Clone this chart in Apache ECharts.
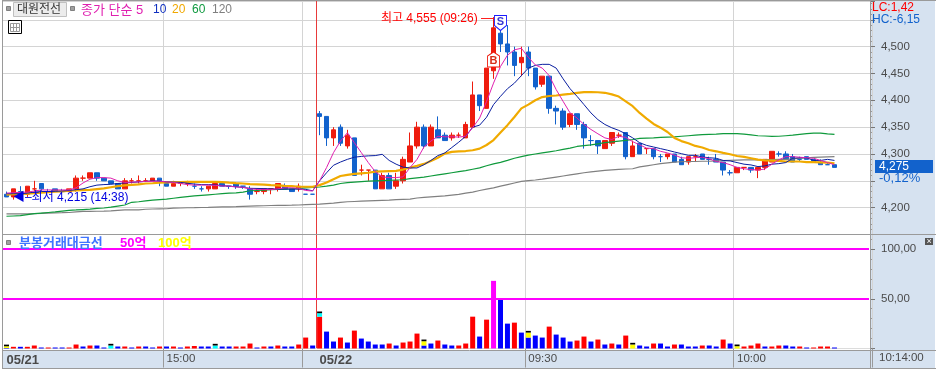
<!DOCTYPE html>
<html>
<head>
<meta charset="utf-8">
<style>html,body{margin:0;padding:0;background:#fff}#chart{width:936px;height:370px}</style>
<script src="https://cdn.jsdelivr.net/npm/echarts@6/dist/echarts.min.js"></script>
</head>
<body>
<div id="chart"></div>
<script>
// 분봉 시간
const times = [
  '14:37','14:38','14:39','14:40','14:41','14:42','14:43','14:44','14:45','14:46',
  '14:47','14:48','14:49','14:50','14:51','14:52','14:53','14:54','14:55','14:56',
  '14:57','14:58','14:59','15:00','15:01','15:02','15:03','15:04','15:05','15:06',
  '15:07','15:08','15:09','15:10','15:11','15:12','15:13','15:14','15:15','15:16',
  '15:17','15:18','15:19','15:20','15:21',
  '09:00','09:01','09:02','09:03','09:04','09:05','09:06','09:07','09:08','09:09',
  '09:10','09:11','09:12','09:13','09:14','09:15','09:16','09:17','09:18','09:19',
  '09:20','09:21','09:22','09:23','09:24','09:25','09:26','09:27','09:28','09:29',
  '09:30','09:31','09:32','09:33','09:34','09:35','09:36','09:37','09:38','09:39',
  '09:40','09:41','09:42','09:43','09:44','09:45','09:46','09:47','09:48','09:49',
  '09:50','09:51','09:52','09:53','09:54','09:55','09:56','09:57','09:58','09:59',
  '10:00','10:01','10:02','10:03','10:04','10:05','10:06','10:07','10:08','10:09',
  '10:10','10:11','10:12','10:13','10:14'
]
// 오른쪽 여백 칸
const blankSlots = ['', '', '', '', '']

const opens = [
  4225,4220,4230,4225,4235,4245,4230,4235,4230,4230,
  4235,4255,4255,4265,4255,4250,4245,4235,4250,4250,
  4250,4250,4255,4245,4240,4245,4245,4240,4235,4235,
  4235,4245,4240,4245,4240,4235,4230,4230,4235,4235,
  4240,4235,4235,4225,4225,4375,4370,4330,4350,4315,
  4330,4270,4270,4270,4235,4260,4240,4250,4285,4315,
  4350,4315,4345,4335,4330,4335,4330,4350,4410,4385,
  4455,4525,4505,4490,4470,4490,4460,4430,4445,4385,
  4380,4355,4375,4355,4325,4325,4310,4320,4335,4340,
  4295,4320,4310,4310,4295,4295,4300,4290,4285,4295,
  4300,4290,4290,4285,4265,4265,4275,4275,4270,4275,
  4285,4300,4300,4295,4290,4295,4290,4285,4280,4280
]
const closes = [
  4220,4235,4225,4240,4235,4235,4230,4230,4230,4235,
  4255,4255,4265,4255,4250,4245,4235,4250,4250,4250,
  4250,4255,4250,4240,4245,4245,4245,4240,4235,4240,
  4245,4240,4240,4240,4240,4225,4230,4235,4235,4245,
  4235,4230,4240,4225,4225,4370,4330,4345,4320,4335,
  4260,4270,4270,4235,4260,4235,4250,4290,4315,4350,
  4315,4350,4330,4325,4335,4335,4355,4410,4390,4460,
  4535,4505,4490,4465,4480,4460,4425,4445,4385,4380,
  4350,4375,4355,4330,4325,4315,4325,4340,4335,4295,
  4315,4300,4310,4295,4295,4300,4285,4280,4295,4295,
  4290,4290,4285,4270,4265,4275,4275,4270,4275,4290,
  4305,4300,4290,4285,4290,4290,4285,4280,4280,4275
]
const highs = [
  4230,4235,4240,4240,4250,4245,4235,4235,4235,4235,
  4260,4260,4265,4265,4255,4250,4245,4255,4255,4260,
  4255,4255,4255,4245,4250,4245,4250,4245,4240,4240,
  4245,4245,4240,4245,4240,4240,4235,4235,4235,4245,
  4245,4235,4245,4225,4225,4380,4370,4350,4355,4345,
  4330,4280,4270,4270,4265,4265,4265,4295,4340,4360,
  4355,4355,4370,4340,4340,4340,4360,4435,4410,4460,
  4555,4545,4540,4500,4500,4500,4460,4445,4445,4390,
  4385,4375,4375,4360,4335,4325,4325,4340,4340,4340,
  4325,4320,4310,4310,4300,4300,4300,4295,4295,4300,
  4300,4295,4300,4285,4270,4275,4275,4275,4275,4290,
  4305,4305,4305,4300,4295,4295,4290,4290,4285,4280
]
const lows = [
  4220,4215,4225,4220,4230,4230,4230,4230,4225,4230,
  4230,4250,4255,4250,4250,4245,4235,4235,4245,4245,
  4250,4250,4240,4240,4240,4240,4240,4235,4230,4230,
  4235,4240,4235,4235,4235,4215,4225,4225,4225,4230,
  4235,4230,4230,4225,4225,4335,4315,4315,4315,4310,
  4260,4260,4250,4235,4235,4235,4235,4245,4285,4310,
  4310,4315,4330,4325,4325,4330,4330,4350,4380,4385,
  4440,4490,4465,4445,4445,4445,4420,4425,4375,4355,
  4345,4350,4345,4310,4315,4300,4310,4315,4330,4290,
  4295,4300,4300,4290,4285,4290,4285,4280,4280,4285,
  4290,4280,4285,4260,4260,4265,4270,4265,4255,4270,
  4285,4295,4290,4285,4285,4290,4285,4280,4280,4275
]
// 시가=종가인 봉 중 빨간 십자
const redDoji = [4,11,18,19,20,25,26,36,38,51,52,65,88,92,99,106]

const ma5 = [
  4227,4228,4228.5,4229,4231,4233,4233,4233,4233,4233,
  4237,4246,4253,4256,4256,4255,4250,4247,4247.5,4248,
  4249,4249,4249.5,4248,4247,4245,4243,4242,4242,4242,
  4241.5,4240.5,4240,4238.5,4238,4235,4234,4234,4233.5,4235,
  4237,4237,4236,4232,4231,4250,4274.7,4302.5,4324,4339.5,
  4321,4302.5,4284,4267,4257.4,4256,4256,4257.4,4274.7,4290,
  4313,4324,4333,4332,4332,4331.5,4333,4349,4367,4398,
  4432,4463,4484,4494,4497,4480,4466,4460,4446,4420,
  4398,4376.5,4367,4355,4345.7,4337.6,4330,4327,4333,4331,
  4323,4317,4311,4310,4305,4302,4298,4293,4292,4293,
  4294,4291,4286,4284,4280,4275,4272.5,4271,4270,4272,
  4281,4289,4295,4295,4294,4293,4292,4288,4284,4280
]
const ma10 = [
  4226,4226,4226,4227,4229,4230,4230,4230.5,4231,4232,
  4233.5,4235,4239,4242,4243,4243.5,4245,4246,4247,4248,
  4249,4250,4249.5,4248,4247.5,4247,4245.5,4244,4243,4243,
  4242.5,4241,4240,4239,4237.6,4236,4235.8,4235.5,4235,4234.6,
  4234.6,4234.6,4234.6,4234,4231.5,4250,4265,4279,4285,4290,
  4294,4295.5,4296.5,4297,4299.4,4288,4281,4275.5,4274,4274,
  4280,4288,4297,4302,4312,4322,4333,4350,4353.7,4368.5,
  4392,4407.4,4421.6,4432,4446,4460,4465,4467,4467,4460,
  4440,4421.6,4407.4,4392,4376.5,4364,4355,4348.8,4344,4337.6,
  4330,4321,4316,4313,4310,4307,4303.7,4300.6,4297.5,4297.5,
  4294.4,4293,4292,4288,4287,4284,4281,4279.6,4276.5,4277.8,
  4281,4282,4284,4292,4293,4293,4288,4288,4290,4288
]
const ma20 = [
  4224,4225,4225.5,4226,4227,4228,4229,4230,4230.5,4231.5,
  4232,4232.7,4233,4234.6,4236,4238,4240,4241.5,4242.6,4243.5,
  4245,4245.5,4246.5,4247,4247.5,4247.5,4248,4248,4248,4248,
  4248,4247.5,4246.5,4245.7,4245,4244,4243.5,4243,4242,4241.5,
  4240.5,4240,4239,4239,4239,4242,4247,4253,4259,4261,
  4263,4264,4265,4267,4267.5,4268,4268.5,4271,4274.7,4277.8,
  4281.5,4287,4293,4300.6,4304,4305,4305.5,4307,4310,4316.7,
  4326,4340,4353.7,4369,4385,4392,4400,4406,4408,4409,
  4410.5,4412,4414,4415.4,4415.5,4415,4414,4411,4407,4398,
  4389,4376.5,4366,4356,4349,4341,4330,4324,4320,4315,
  4312,4307.5,4305,4302,4299.5,4296.3,4294.5,4292,4289.5,4288,
  4287.7,4287,4286,4286,4286,4285,4285,4284.5,4284,4282.7
]
const ma60 = [
  4184,4184.5,4185,4187,4189,4190,4191,4192,4193.5,4195,
  4195.7,4196.5,4197.3,4198.5,4199.4,4201,4203,4205,4210,4211,
  4212.5,4214,4215,4216,4217.5,4219,4220.5,4222,4223,4224,
  4225,4226,4227,4227.5,4229,4231.5,4232,4232.5,4233.5,4234,
  4234.6,4235.2,4236,4236.8,4237.6,4238.5,4240,4242,4245,4246.5,
  4247.5,4248.5,4249.5,4250,4250.5,4251,4251.5,4252,4254,4255.5,
  4257,4259,4261,4263,4265,4267,4269,4271.5,4274,4278,
  4281.5,4284.5,4288,4292,4295,4298,4300,4302,4304,4306,
  4308.5,4311,4314,4315.5,4317,4319,4321,4322.5,4324,4325.5,
  4327,4329,4329.5,4330,4331,4331.5,4332,4333,4334,4335,
  4336,4336.5,4337,4338,4338,4338,4337,4335.5,4334,4333.5,
  4332.7,4333,4334,4335,4336.5,4338,4339,4339,4337.5,4336.5
]
const ma120 = [
  4188.3,4188.3,4188.3,4188.6,4189,4189.3,4190,4190.3,4190.6,4191,
  4192,4193,4193,4193.3,4193.6,4194,4195,4195.7,4195.7,4196,
  4197,4197.5,4197.8,4198,4199,4199.4,4199.8,4200,4200.3,4200.6,
  4201,4201.3,4201.6,4202,4202.5,4203,4203.3,4203.6,4204,4204.3,
  4204.3,4204.6,4205,4205.5,4206,4206.5,4207.5,4208.5,4210,4211,
  4211.5,4212,4212.5,4213,4213.5,4214,4215,4215.5,4216,4218,
  4219,4220,4221,4222,4223.5,4224.7,4227,4229,4232,4234.6,
  4237,4240,4243,4246,4249,4250.5,4251.5,4253,4255,4257,
  4259,4261,4263,4265,4266.5,4268,4269.5,4270.5,4271.5,4272,
  4272.5,4276,4278,4280,4282,4283.5,4285,4285.5,4286,4286,
  4286.5,4286.5,4287,4287.5,4288,4288.5,4289,4289,4289,4289.5,
  4289.5,4290,4290,4291,4292,4293,4293.5,4294,4294.5,4295
]

// 분봉 거래대금 (억)
const amounts = [
  0.5,1.7,1.7,1.7,3,1,1,1,1,1,
  4,2,3,3,1,0,2,2,1,2,
  2,1,2,2,2,1,2,2.5,2,2,
  0,2,2,2,2,5,1,2,2,3,
  2,2,4,11,3,32,17,7,11,6,
  18,10,7,4,4,5,3,6,7,15,
  3,5,8,4,3,3,5,32,12,29,
  68,49,25,26,16,11,13,11,22,14,
  11,7,8,12,7,9,4,5,4,13,
  0,3,2,5,5,2,4,4,2,2,
  3,3,2,9,5,0,2,3,5,2,
  2,3,3,2,2,1,1,2,2,1
]
const amountSides = [
  'b','r','b','r','r','b','r','b','b','r',
  'r','b','r','b','b','b','b','r','b','r',
  'b','b','r','b','r','b','r','r','b','b',
  'b','b','b','r','r','r','b','r','b','r',
  'b','b','r','r','b','r','b','b','r','b',
  'r','b','b','b','b','r','b','r','r','r',
  'b','b','r','b','b','r','r','r','b','r',
  'r','b','b','r','b','b','b','b','r','b',
  'b','b','r','r','b','r','b','r','b','r',
  'b','b','b','r','b','b','r','b','b','b',
  'r','b','b','r','b','b','r','r','r','b',
  'r','r','b','b','r','b','r','r','r','b'
]
// 15분마다 찍히는 표시
const cycleBars = [0, 15, 30, 45, 60, 75, 90, 105]
const cycleFill = [1.7, 3, 3, 3.5, 4.3, 5, 4, 2.3]
const cycleColors = ['#ffff00', '#00ffff', '#00ffff', '#00ffff', '#ffff00', '#ffff00', '#ffff00', '#ffff00']
const cycleCap = 1.7

const amountLevels = [50, 100]
const priceLabels = [4200, 4300, 4350, 4400, 4450, 4500]
const amountLabels = [50, 100]
const timeLabels = {0: '05/21', 23: '15:00', 45: '05/22', 75: '09:30', 105: '10:00'}
const timeLines = [23, 43, 75, 105]
// 세로선: 45번째 칸(05/22 시작)만 빨간색
const splitBars = [23, 43, 45, 75, 105]
const splitColors = ['#d4d4d4', '#d4d4d4', '#e83a3a', '#d4d4d4', '#d4d4d4']

const highMark = [70, 4555]
const lowMark = [1, 4215]
const sellMark = [71, 4530]
const buyMark = [70, 4490]

const UP = '#ee1c0e'
const DOWN = '#1262cc'
const GRID = '#d4d4d4'
const FRAME = '#9a9a9a'
const PANEL = '#d6e2f0'
const TEXT = '#4a4a4a'
const FONT = '"Liberation Sans","Noto Sans CJK KR",sans-serif'

const categories = times.concat(blankSlots)

const candles = opens.map((o, i) => {
  const item = {value: [o, closes[i], lows[i], highs[i]]}
  if (o === closes[i] && redDoji.includes(i)) item.itemStyle = {borderColorDoji: UP}
  return item
})
const amountBars = amounts.map((v, i) => ({
  value: v,
  itemStyle: {color: v >= 50 ? '#ff00ff' : amountSides[i] === 'r' ? '#ff0000' : '#0000ff'}
}))
const cycleFillBars = amounts.map((v, i) => {
  const k = cycleBars.indexOf(i)
  return k < 0 ? 0 : {value: cycleFill[k], itemStyle: {color: cycleColors[k]}}
})
const cycleCapBars = amounts.map((v, i) => (cycleBars.includes(i) ? cycleCap : 0))

const chart = echarts.init(document.getElementById('chart'))

function maSeries(name, data, color, width) {
  return {
    name, type: 'line', data, xAxisIndex: 0, yAxisIndex: 0, z: 6,
    symbol: 'none', silent: true, animation: false,
    lineStyle: {color, width}
  }
}
function xAxisBase(gridIndex) {
  return {
    type: 'category', gridIndex, data: categories, boundaryGap: true,
    axisLine: {show: false}, axisTick: {show: false}, axisLabel: {show: false},
    z: 3,
    splitLine: {show: true, interval: i => splitBars.includes(i), lineStyle: {color: splitColors, width: 1}}
  }
}
function label(text, x, y, fill, size, extra) {
  return {
    type: 'text', x, y, z: 10, silent: true,
    style: Object.assign({text, fill, font: (size || 13) + 'px ' + FONT, textVerticalAlign: 'middle'}, extra || {})
  }
}
function box(x, y, width, height, fill, stroke, z) {
  return {type: 'rect', z: z || 1, silent: true, shape: {x, y, width, height}, style: {fill, stroke: stroke || null, lineWidth: 1}}
}
function rule(x1, y1, x2, y2, stroke, z) {
  return {type: 'line', z: z || 4, silent: true, shape: {x1, y1, x2, y2}, style: {stroke, lineWidth: 1}}
}

const option = {
  animation: false,
  backgroundColor: '#fff',
  textStyle: {fontFamily: FONT},
  grid: [
    {left: 3, top: 1, width: 869.75, height: 233.5},
    {left: 3, top: 234.5, width: 869.75, height: 114}
  ],
  xAxis: [
    xAxisBase(0),
    Object.assign(xAxisBase(1), {
      axisLine: {show: true, onZero: false, lineStyle: {color: '#dcdcdc'}},
      axisTick: {show: true, length: 19, interval: i => timeLines.includes(i), lineStyle: {color: FRAME}},
      axisLabel: {
        show: true, margin: 5, align: 'left', color: TEXT, fontSize: 11.5,
        interval: i => timeLabels[i] !== undefined,
        formatter: (v, i) => {
          const t = timeLabels[i]
          return t && t.includes('/') ? '{d|' + t + '}' : (t || '')
        },
        rich: {d: {fontWeight: 'bold', fontSize: 13, color: TEXT}}
      }
    })
  ],
  yAxis: [
    {
      type: 'value', gridIndex: 0, position: 'right', offset: -2.75, min: 4150, max: 4585, interval: 50,
      z: 3,
      axisLine: {show: false},
      axisTick: {show: true, length: 5, lineStyle: {color: '#777'}},
      minorTick: {show: true, splitNumber: 5, length: 2, lineStyle: {color: '#999'}},
      axisLabel: {
        margin: 11, color: TEXT, fontSize: 11.5, showMaxLabel: false,
        formatter: v => (priceLabels.includes(v) ? String(v).replace(/^(\d)/, '$1,') : '')
      },
      splitLine: {show: true, lineStyle: {color: GRID, width: 1}}
    },
    {
      type: 'value', gridIndex: 1, position: 'right', offset: -2.75, min: 0, max: 114.6, interval: 50,
      z: 3,
      axisLine: {show: false},
      axisTick: {show: true, length: 5, lineStyle: {color: '#777'}},
      minorTick: {show: true, splitNumber: 5, length: 2, lineStyle: {color: '#999'}},
      axisLabel: {
        margin: 11, color: TEXT, fontSize: 11.5, showMaxLabel: false,
        formatter: v => (amountLabels.includes(v) ? v + ',00' : '')
      },
      splitLine: {show: false}
    }
  ],
  series: [
    {
      type: 'candlestick', name: '대원전선', data: candles, xAxisIndex: 0, yAxisIndex: 0, z: 5,
      barWidth: 5, silent: true, animation: false,
      itemStyle: {color: UP, color0: DOWN, borderColor: UP, borderColor0: DOWN, borderColorDoji: DOWN, borderWidth: 1},
      markPoint: {
        silent: true, animation: false, z: 8,
        data: [
          {
            coord: highMark, symbol: 'circle', symbolSize: 1, itemStyle: {color: 'transparent'},
            label: {show: true, position: 'left', distance: 0, offset: [0, 2], formatter: '최고 4,555 (09:26) —', color: '#ff0000', fontSize: 12, fontFamily: FONT}
          },
          {
            coord: lowMark, symbol: 'circle', symbolSize: 1, itemStyle: {color: 'transparent'},
            label: {show: true, position: 'right', distance: 2, offset: [-3, -2], formatter: '◀–최저 4,215 (14:38)', color: '#0000e0', fontSize: 12, fontFamily: FONT}
          },
          {
            coord: sellMark, symbol: 'path://M0,0 H12 V10 L6,15 L0,10 Z', symbolSize: [12, 15], symbolOffset: [0, -7.5],
            itemStyle: {color: '#fff', borderColor: '#1a1aff', borderWidth: 1},
            label: {show: true, position: 'inside', offset: [0, -1], formatter: 'S', color: '#3a3ad0', fontSize: 11, fontWeight: 'bold', fontFamily: 'Liberation Sans'}
          },
          {
            coord: buyMark, symbol: 'path://M6,0 L12,4 V15 H0 V4 Z', symbolSize: [12, 15], symbolOffset: [0, 7.5],
            itemStyle: {color: '#fff', borderColor: '#ee1c0e', borderWidth: 1},
            label: {show: true, position: 'inside', offset: [0, 1], formatter: 'B', color: '#d8301a', fontSize: 11, fontWeight: 'bold', fontFamily: 'Liberation Sans'}
          }
        ]
      }
    },
    maSeries('120', ma120, '#808080', 1.2),
    maSeries('60', ma60, '#0f9a3c', 1.2),
    maSeries('20', ma20, '#f0aa00', 2.2),
    maSeries('10', ma10, '#0a1fa0', 1),
    maSeries('5', ma5, '#e020b0', 1),
    {
      type: 'bar', name: '분봉거래대금', data: amountBars, xAxisIndex: 1, yAxisIndex: 1, stack: 'amount',
      barWidth: 5, z: 5, silent: true, animation: false,
      markLine: {
        silent: true, animation: false, symbol: 'none', z: 6,
        label: {show: false},
        lineStyle: {color: '#ff00ff', width: 2, type: 'solid'},
        data: amountLevels.map(v => [{x: 3, yAxis: v}, {x: 869, yAxis: v}])
      }
    },
    {type: 'bar', data: cycleFillBars, xAxisIndex: 1, yAxisIndex: 1, stack: 'amount', barWidth: 6, z: 5, silent: true, animation: false},
    {type: 'bar', data: cycleCapBars, xAxisIndex: 1, yAxisIndex: 1, stack: 'amount', barWidth: 6, z: 5, silent: true, animation: false, itemStyle: {color: '#000'}}
  ],
  graphic: {
    elements: [
      // 오른쪽 축 영역, 아래 시간 띠
      box(871, 1, 64, 367, PANEL),
      box(3, 351, 868, 17, PANEL),
      rule(2, 0.5, 936, 0.5, FRAME),
      rule(2.5, 0, 2.5, 369, FRAME),
      rule(3, 234.5, 936, 234.5, FRAME),
      rule(3, 350.5, 936, 350.5, FRAME),
      rule(2, 368.5, 936, 368.5, FRAME),
      rule(870.5, 0, 870.5, 369, FRAME),

      // 상단 범례
      box(6.5, 6.5, 4, 4, '#a0a0a0', '#808080', 9),
      box(13.5, 2.5, 53, 14, '#ececec', '#c0c0c0', 9),
      label('대원전선', 17, 10, '#333', 12),
      box(70.5, 6.5, 4, 4, '#a0a0a0', '#808080', 9),
      label('종가 단순 5', 81, 10, '#e020b0', 13),
      label('10', 153, 10, '#1030c0', 12),
      label('20', 172, 10, '#f0a800', 12),
      label('60', 192, 10, '#109a40', 12),
      label('120', 212, 10, '#808080', 12),

      // 표 아이콘
      box(8.5, 20.5, 13, 13, '#fff', '#000', 9),
      box(10.5, 23.5, 9, 8, '#fff', '#999', 9),
      rule(13.5, 23.5, 13.5, 31.5, '#999', 9),
      rule(16.5, 23.5, 16.5, 31.5, '#999', 9),
      rule(10.5, 27.5, 19.5, 27.5, '#999', 9),

      // 오른쪽 상단 값
      label('LC:1,42', 872, 8, '#ff0000', 12),
      label('HC:-6,15', 872, 20, '#1262cc', 12),

      // 현재가
      box(875, 160, 58, 13, '#1262cc', null, 9),
      label('4,275', 879, 167, '#fff', 12),
      label('-0,12%', 879, 178, '#1262cc', 13),

      // 거래대금 범례
      box(6.5, 240.5, 4, 4, '#a0a0a0', '#808080', 9),
      label('분봉거래대금선', 19, 243, '#3f74ff', 13, {font: 'bold 13px ' + FONT}),
      label('50억', 120, 243, '#ff00ff', 13, {font: 'bold 13px ' + FONT}),
      label('100억', 158, 243, '#ffff00', 13, {font: 'bold 13px ' + FONT}),

      // 창 버튼
      box(925, 238, 8, 7, '#555', null, 9),
      label('×', 926.5, 241.5, '#fff', 9),

      label('10:14:00', 879, 358, TEXT, 11.5)
    ]
  }
}

chart.setOption(option)
</script>
</body>
</html>
